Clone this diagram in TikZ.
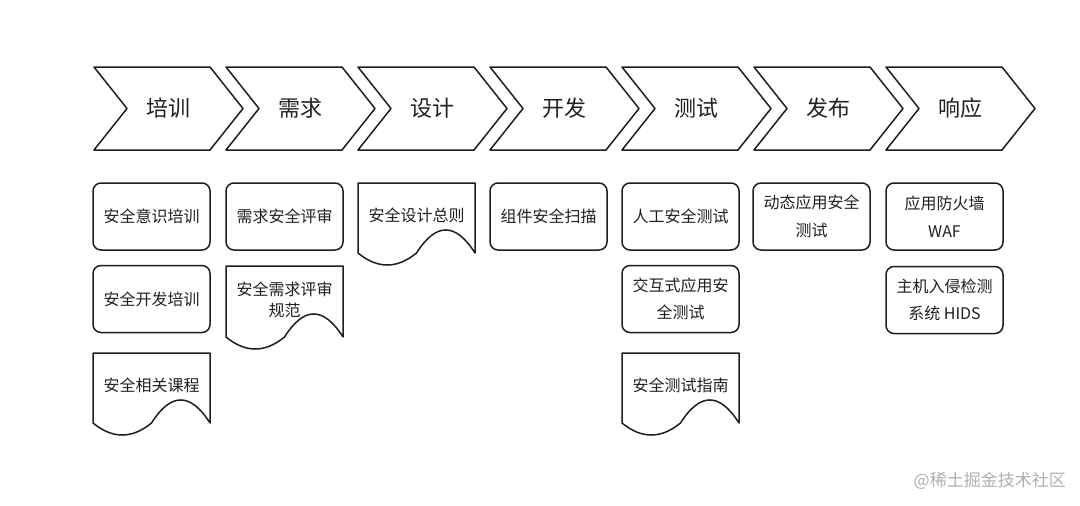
\documentclass[tikz,border=0pt]{standalone}
\usepackage{fontspec}
\setmainfont{Noto Sans CJK SC}
\newfontfamily\cjk{Noto Sans CJK SC}
\definecolor{lineC}{HTML}{1E1E1E}
\definecolor{textC}{HTML}{202020}
\definecolor{markC}{HTML}{B0B0B0}
\tikzset{
  shapeline/.style={draw=lineC, line width=1.5pt, line join=round},
  chevtext/.style={text=textC, font=\cjk\fontsize{22}{24}\selectfont, inner sep=0pt},
  boxnode/.style={shapeline, rounded corners=8pt, minimum width=117pt, minimum height=67pt,
     text=textC, font=\cjk\fontsize{16}{27.5}\selectfont, align=center, inner sep=0pt},
  doctext/.style={text=textC, font=\cjk\fontsize{16}{21}\selectfont, align=center, inner sep=0pt},
}
\newcommand\chevron[3]{%
  \draw[shapeline] (#2,67) -- (#2+116,67) -- (#2+149,108.5) -- (#2+116,150) -- (#2,150) -- (#2+33,108.5) -- cycle;
  \node[chevtext] (#1) at (#2+74.5,108.5) {#3};
}
\newcommand\docshape[6]{% name, L, T, E, text y, text
  \draw[shapeline] (#2,#3) -- (#2+117,#3) -- (#2+117,#4)
    .. controls (#2+97.5,#4-30.7) and (#2+78,#4-30.7) .. (#2+58.5,#4)
    .. controls (#2+39,#4+16) and (#2+19.5,#4+16) .. (#2,#4) -- cycle;
  \node[doctext] (#1) at (#2+58.5,#5) {#6};
}
\begin{document}
\begin{tikzpicture}[x=1pt,y=-1pt]
\useasboundingbox[fill=white] (0,0) rectangle (1080,506);
% chevrons
\chevron{c1}{94}{培训}
\chevron{c2}{226}{需求}
\chevron{c3}{358}{设计}
\chevron{c4}{490}{开发}
\chevron{c5}{622}{测试}
\chevron{c6}{754}{发布}
\chevron{c7}{886}{响应}
% column 1
\node[boxnode] (b11) at (151.5,216.5) {安全意识培训};
\node[boxnode] (b12) at (151.5,299) {安全开发培训};
\docshape{d13}{93}{353}{423}{385}{安全相关课程}
% column 2
\node[boxnode] (b21) at (284.5,216.5) {需求安全评审};
\docshape{d22}{226}{266}{337}{300}{安全需求评审\\规范}
% column 3
\docshape{d31}{358}{183}{253}{215}{安全设计总则}
% column 4
\node[boxnode] (b41) at (548.5,216.5) {组件安全扫描};
% column 5
\node[boxnode] (b51) at (680.5,216.5) {人工安全测试};
\node[boxnode] (b52) at (680.5,299) {交互式应用安\\全测试};
\docshape{d53}{622}{353}{423}{385}{安全测试指南}
% column 6
\node[boxnode] (b61) at (811.5,216.5) {动态应用安全\\测试};
% column 7
\node[boxnode] (b71) at (944.5,216.5) {应用防火墙\\WAF};
\node[boxnode] (b72) at (944.5,300) {主机入侵检测\\系统 HIDS};
% watermark
\node[text=markC, font=\cjk\fontsize{17}{20}\selectfont, anchor=east, inner sep=0pt] (wm) at (1066,481) {@稀土掘金技术社区};
\end{tikzpicture}
\end{document}
